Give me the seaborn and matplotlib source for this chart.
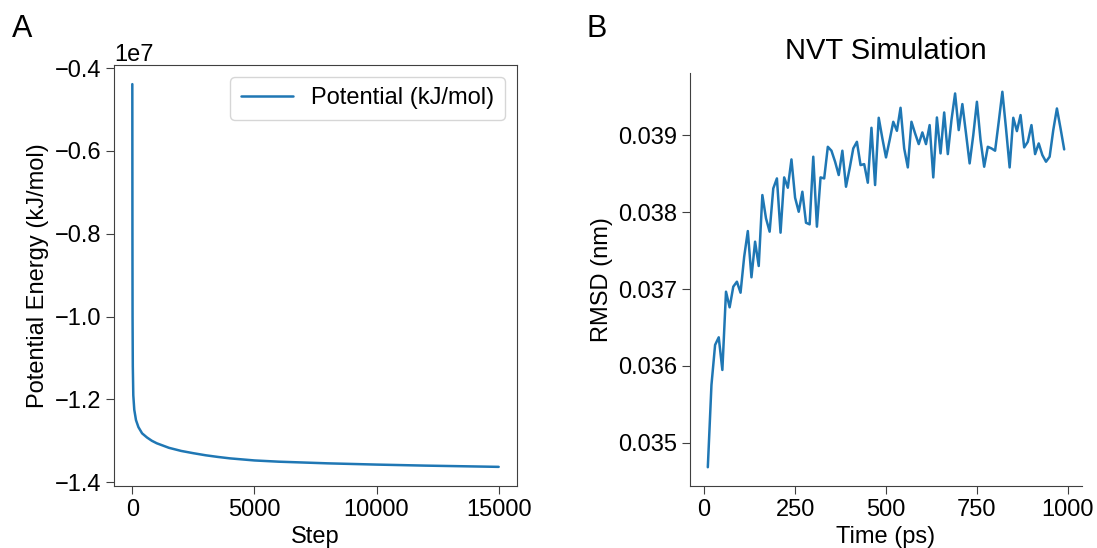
import numpy as np
import pandas as pd
import matplotlib
matplotlib.use("Agg")
import matplotlib.pyplot as plt
import seaborn as sns

# energy minimisation
steps = [0, 5, 10, 20, 40, 80, 150, 250, 400, 600, 800, 1000, 1500, 2000, 2500,
         3000, 3500, 4000, 5000, 6000, 7000, 8000, 10000, 12000, 14000, 15000]
energy = [-0.4385, -0.80, -1.00, -1.12, -1.19, -1.225, -1.25, -1.267, -1.282,
          -1.292, -1.300, -1.306, -1.317, -1.3245, -1.330, -1.335, -1.339,
          -1.3425, -1.3475, -1.3505, -1.3525, -1.3545, -1.3575, -1.360,
          -1.362, -1.363]
energy = [e * 1e7 for e in energy]

# NVT RMSD, every 10 ps
time_ps = list(range(10, 1000, 10))
rmsd = [
    0.034684, 0.035753, 0.036273, 0.036372, 0.035948, 0.036965, 0.036762, 0.037030, 0.037095, 0.036952,
    0.037420, 0.037753, 0.037152, 0.037615, 0.037299, 0.038221, 0.037918, 0.037745, 0.038307, 0.038437,
    0.037732, 0.038450, 0.038316, 0.038684, 0.038186, 0.038004, 0.038264, 0.037861, 0.037840, 0.038719,
    0.037810, 0.038450, 0.038437, 0.038848, 0.038797, 0.038654, 0.038481, 0.038797, 0.038329, 0.038567,
    0.038827, 0.038913, 0.038610, 0.038623, 0.038381, 0.039095, 0.038351, 0.039225, 0.038957, 0.038710,
    0.038935, 0.039173, 0.039056, 0.039355, 0.038827, 0.038580, 0.039173, 0.039022, 0.038883, 0.039035,
    0.038883, 0.039130, 0.038450, 0.039229, 0.038762, 0.039294, 0.038753, 0.039195, 0.039541, 0.039065,
    0.039403, 0.039022, 0.038632, 0.039000, 0.039433, 0.038935, 0.038589, 0.038848, 0.038827, 0.038797,
    0.039173, 0.039563, 0.039087, 0.038580, 0.039225, 0.039052, 0.039260, 0.038840, 0.038913, 0.039130,
    0.038753, 0.038892, 0.038740, 0.038654, 0.038719, 0.039065, 0.039346, 0.039087, 0.038814,
]

sns.set_style("ticks")
plt.rcParams['font.family'] = ['Liberation Sans', 'DejaVu Sans']
plt.rcParams['font.size'] = 17
plt.rcParams['axes.labelsize'] = 17
plt.rcParams['xtick.labelsize'] = 17
plt.rcParams['ytick.labelsize'] = 17
plt.rcParams['xtick.major.size'] = 5.5
plt.rcParams['ytick.major.size'] = 5.5
plt.rcParams['axes.edgecolor'] = '0.25'
plt.rcParams['xtick.color'] = '0.25'
plt.rcParams['ytick.color'] = '0.25'
plt.rcParams['xtick.labelcolor'] = 'black'
plt.rcParams['ytick.labelcolor'] = 'black'
plt.rcParams['text.color'] = 'black'
plt.rcParams['axes.labelcolor'] = 'black'

W, H = 1097, 548
fig = plt.figure(figsize=(W / 100, H / 100), dpi=100)
ax1 = fig.add_axes([114 / W, (H - 486) / H, (517 - 114) / W, (486 - 65) / H])
ax2 = fig.add_axes([690 / W, (H - 486) / H, (1082 - 690) / W, (486 - 73) / H])

df_em = pd.DataFrame({'Step': steps, 'Energy': energy})
sns.lineplot(data=df_em, x='Step', y='Energy', ax=ax1, color='#1f77b4',
             linewidth=1.8, label='Potential (kJ/mol)')
ax1.set_xlabel('Step')
ax1.set_ylabel('Potential Energy (kJ/mol)')
ax1.set_yticks([-0.4e7, -0.6e7, -0.8e7, -1.0e7, -1.2e7, -1.4e7])
ax1.set_xticks([0, 5000, 10000, 15000])
ax1.legend(loc='upper right', fontsize=17, handlelength=2.2, borderpad=0.45)
ax1.yaxis.get_offset_text().set_fontsize(17)

df_nvt = pd.DataFrame({'Time (ps)': time_ps, 'RMSD (nm)': rmsd})
sns.lineplot(data=df_nvt, x='Time (ps)', y='RMSD (nm)', ax=ax2, color='#1f77b4',
             linewidth=1.8)
ax2.set_title('NVT Simulation', fontsize=21, pad=10)
ax2.set_xticks([0, 250, 500, 750, 1000])
ax2.set_yticks([0.035, 0.036, 0.037, 0.038, 0.039])
sns.despine(ax=ax2)

fig.text(22 / W, 1 - 29 / H, 'A', fontsize=22, ha='center', va='center')
fig.text(597 / W, 1 - 29 / H, 'B', fontsize=22, ha='center', va='center')

fig.savefig('out.png', dpi=100)
